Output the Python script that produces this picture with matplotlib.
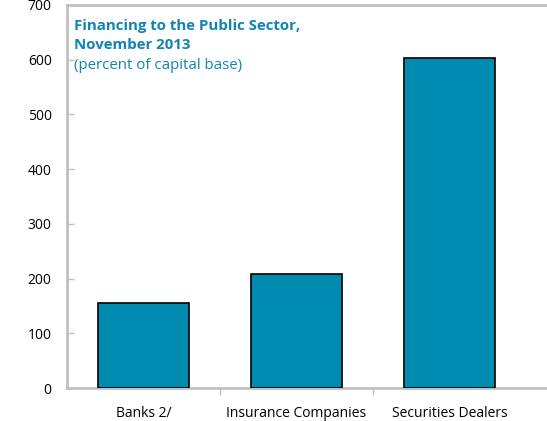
import matplotlib.pyplot as plt
import numpy as np

plt.rcParams['font.family'] = ['Open Sans', 'DejaVu Sans']

sectors = ["Banks 2/", "Insurance Companies", "Securities Dealers"]
financing = [155, 208, 604]

bar_color = '#008BB0'
grey = '#c0c0c0'
title_color = '#1184B4'

fig = plt.figure(figsize=(5.47, 4.21), dpi=100)
ax = fig.add_axes([67 / 547, 33 / 421, 480 / 547, 383 / 421])

x = np.arange(len(sectors))
ax.bar(x, financing, width=0.6, color=bar_color, edgecolor='black', linewidth=1.2, zorder=3)

ax.set_ylim(0, 700)
ax.set_xlim(-0.5, 2.637)
ax.set_yticks(np.arange(0, 701, 100))
ax.set_xticks(x)
ax.set_xticklabels(sectors)
ax.set_xticks([0.5, 1.5], minor=True)

ax.tick_params(axis='y', direction='in', length=5, width=1, color=grey,
               labelsize=10, pad=11)
ax.tick_params(axis='x', which='major', length=0, labelsize=10, pad=13)
ax.tick_params(axis='x', which='minor', direction='out', length=5, width=1, color=grey)

for side in ['left', 'bottom', 'top']:
    ax.spines[side].set_color(grey)
    ax.spines[side].set_linewidth(2)
ax.spines['right'].set_visible(False)

ax.text(0.014, 0.964, "Financing to the Public Sector,\nNovember 2013",
        transform=ax.transAxes, ha='left', va='top', fontsize=10.8,
        fontweight='bold', color=title_color, linespacing=1.45)
ax.text(0.014, 0.862, "(percent of capital base)", transform=ax.transAxes,
        ha='left', va='top', fontsize=10.8, color=title_color)

fig.savefig('out.png', dpi=100)
